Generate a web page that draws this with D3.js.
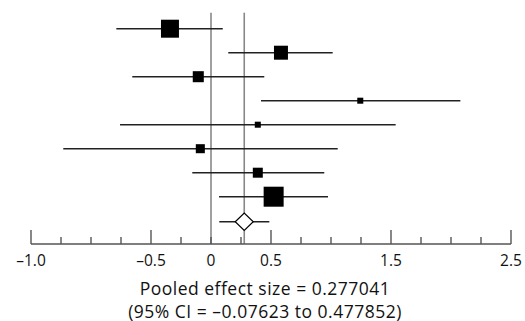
<!DOCTYPE html>
<html>
<head>
<meta charset="utf-8">
<style>
  body { margin: 0; background: #fff; }
  text { font-family: "Open Sans", "DejaVu Sans", sans-serif; fill: #111; }
</style>
<script src="https://d3js.org/d3.v7.min.js"></script>
</head>
<body>
<div id="chart"></div>
<script>
// study estimates
var effect = [-0.342, 0.583, -0.106, 1.244, 0.39, -0.089, 0.39, 0.522];
var lower  = [-0.789, 0.144, -0.656, 0.417, -0.758, -1.231, -0.156, 0.067];
var upper  = [0.098, 1.014, 0.444, 2.078, 1.539, 1.056, 0.944, 0.975];
var weight = [25.0, 15.1, 9.4, 2.8, 2.8, 6.3, 7.7, 30.9];

var pooled = 0.277041;
var pooledLine = [0.069, 0.486];

var tickMinor = d3.range(-1.5, 2.5001, 0.25);
var tickMajor = [-1.5, -0.5, 0.5, 1.5, 2.5];
var tickPos   = [-1.5, -0.5, 0, 0.5, 1.5, 2.5];
var tickText  = ["\u20131.0", "\u20130.5", "0", "0.5", "1.5", "2.5"];

var caption = ["Pooled effect size = 0.277041", "(95% CI = \u20130.07623 to 0.477852)"];

var width = 525, height = 321;
var svg = d3.select("#chart").append("svg")
    .attr("width", width)
    .attr("height", height);

var x = d3.scaleLinear().domain([-1.5, 2.5]).range([31, 511]);
var y = d3.scalePoint().domain(d3.range(9)).range([28.7, 220.7]);
var size = d3.scaleSqrt().domain([0, 30.9]).range([0, 20]);
var axisY = 244, topY = 12.7;

// reference lines: no effect and pooled
svg.selectAll(".vline").data([0, pooled]).enter().append("line")
    .attr("x1", d => x(d)).attr("x2", d => x(d))
    .attr("y1", topY).attr("y2", axisY)
    .attr("stroke", "#888").attr("stroke-width", 1.6);

// confidence intervals
svg.selectAll(".ci").data(effect).enter().append("line")
    .attr("x1", (d, i) => x(lower[i]))
    .attr("x2", (d, i) => x(upper[i]))
    .attr("y1", (d, i) => y(i)).attr("y2", (d, i) => y(i))
    .attr("stroke", "#222").attr("stroke-width", 1.4);

// weighted squares
svg.selectAll(".sq").data(effect).enter().append("rect")
    .attr("x", (d, i) => x(d) - size(weight[i]) / 2)
    .attr("y", (d, i) => y(i) - size(weight[i]) / 2)
    .attr("width", (d, i) => size(weight[i]))
    .attr("height", (d, i) => size(weight[i]))
    .attr("fill", "#000");

// pooled estimate
var py = y(8) + 1;
svg.append("line")
    .attr("x1", x(pooledLine[0])).attr("x2", x(pooledLine[1]))
    .attr("y1", py).attr("y2", py)
    .attr("stroke", "#222").attr("stroke-width", 1.4);
var dx = 9, dy = 8.7, cx = x(pooled);
svg.append("path")
    .attr("d", "M" + (cx - dx) + "," + py + "L" + cx + "," + (py - dy) +
               "L" + (cx + dx) + "," + py + "L" + cx + "," + (py + dy) + "Z")
    .attr("fill", "#fff").attr("stroke", "#000").attr("stroke-width", 1.2);

// axis
var ax = svg.append("g");
ax.append("line")
    .attr("x1", x(-1.5)).attr("x2", x(2.5))
    .attr("y1", axisY).attr("y2", axisY)
    .attr("stroke", "#555").attr("stroke-width", 1.6);
ax.selectAll(".tk").data(tickMinor).enter().append("line")
    .attr("x1", d => x(d)).attr("x2", d => x(d))
    .attr("y1", axisY)
    .attr("y2", d => tickMajor.some(m => Math.abs(m - d) < 1e-6) ? axisY - 14 : axisY - 7)
    .attr("stroke", "#555").attr("stroke-width", 1.4);
ax.selectAll(".tl").data(tickPos).enter().append("text")
    .attr("x", d => x(d))
    .attr("y", 266)
    .attr("text-anchor", "middle")
    .attr("font-size", 15.5)
    .text((d, i) => tickText[i]);

svg.selectAll(".cap").data(caption).enter().append("text")
    .attr("x", 265)
    .attr("y", (d, i) => 295 + i * 22.5)
    .attr("text-anchor", "middle")
    .attr("font-size", 17.5)
    .attr("letter-spacing", 0.5)
    .text(d => d);
</script>
</body>
</html>
